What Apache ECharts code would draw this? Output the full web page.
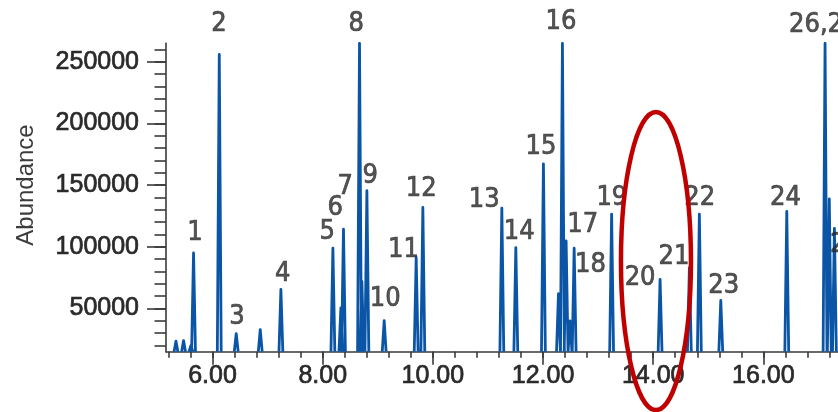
<!DOCTYPE html>
<html>
<head>
<meta charset="utf-8">
<script src="https://cdn.jsdelivr.net/npm/echarts@6/dist/echarts.min.js"></script>
<style>
html,body{margin:0;padding:0;background:#fff;}
#chart{width:838px;height:412px;}
</style>
</head>
<body>
<div id="chart"></div>
<script>
// ---- data (retention time in min, abundance) ----
const peakTimes   = [5.336, 5.474, 5.608, 5.655, 6.122, 6.430, 6.866, 7.241, 8.185, 8.330, 8.377, 8.668, 8.711, 8.802, 9.116, 9.697, 9.818, 11.252, 11.506, 12.007, 12.280, 12.352, 12.419, 12.490, 12.565, 13.245, 14.125, 14.657, 14.838, 15.227, 16.425, 17.120, 17.197, 17.290];
const peakHeights = [23500, 24000, 20000, 95000, 256000, 29600, 32900, 65500, 99000, 50500, 114300, 265000, 72000, 145500, 40200, 91200, 131900, 131400, 99400, 167300, 62000, 265000, 104800, 40000, 98900, 126600, 73600, 83100, 126600, 56500, 128700, 265000, 138800, 115000];
const baselineAbundance = 15000;

const peakLabels      = ['1','2','3','4','5','6','7','8','9','10','11','12','13','14','15','16','17','18','19','20','21','22','23','24','26,27','28'];
const peakLabelTimes  = [5.681, 6.116, 6.443, 7.274, 8.082, 8.227, 8.408, 8.608, 8.862, 9.134, 9.466, 9.788, 10.931, 11.566, 11.962, 12.325, 12.719, 12.860, 13.249, 13.762, 14.376, 14.846, 15.281, 16.403, 17.096, 17.490];
const peakLabelValues = [111200, 280600, 43400, 78000, 112300, 131250, 148760, 280600, 157600, 57700, 97450, 146500, 138000, 112300, 181200, 282500, 117700, 85300, 139600, 75150, 92000, 139350, 68400, 139600, 279800, 101500];

const xLabelTicks = [6, 8, 10, 12, 14, 16];
const xMinorTicks = [5.2, 5.6, 6.0, 6.4, 6.8, 7.2, 7.6, 8.0, 8.4, 8.8, 9.2, 9.6, 10.0, 10.4, 10.8, 11.2, 11.6, 12.0, 12.4, 12.8, 13.2, 13.6, 14.0, 14.4, 14.8, 15.2, 15.6, 16.0, 16.4, 16.8, 17.2];
const yLabelTicks = [50000, 100000, 150000, 200000, 250000];
const yMinorTicks = [20000, 30000, 40000, 50000, 60000, 70000, 80000, 90000, 100000, 110000, 120000, 130000, 140000, 150000, 160000, 170000, 180000, 190000, 200000, 210000, 220000, 230000, 240000, 250000, 260000];
const highlightCenter = [14.05, 88500];  // centre of the red highlight ring (data units)

// ---- styles ----
const X_MIN = 5.155, X_MAX = 17.355, Y_MIN = 15000, Y_MAX = 265000;
const PEAK_HALF_WIDTH = 0.035;
const AXIS_COLOR = '#3a3a3a';
const TEXT_COLOR = '#2a2a2a';
const TRACE_COLOR = '#0b55a6';
const FONT = '"Liberation Sans", Arial, sans-serif';
const NARROW = '"Liberation Sans Narrow", "Arial Narrow", "DejaVu Sans Condensed", sans-serif';
const heavy = {textBorderColor: TEXT_COLOR, textBorderWidth: 0.7};

// build the trace: one spike per peak, separated by gaps
const trace = [];
peakTimes.forEach((t, i) => {
  trace.push([t - PEAK_HALF_WIDTH, baselineAbundance]);
  trace.push([t, peakHeights[i]]);
  trace.push([t + PEAK_HALF_WIDTH, baselineAbundance]);
  trace.push([t + PEAK_HALF_WIDTH, '-']);
});
const labelData = peakLabelTimes.map((t, i) => [t, peakLabelValues[i]]);

const chart = echarts.init(document.getElementById('chart'), null, {renderer: 'canvas'});
const axisBase = {type: 'value', min: X_MIN, max: X_MAX, splitLine: {show: false}};
chart.setOption({
  animation: false,
  backgroundColor: '#ffffff',
  grid: {left: 166, right: 0, top: 43.3, bottom: 60.3, containLabel: false},
  xAxis: [
    Object.assign({}, axisBase, {
      position: 'bottom',
      axisLine: {show: true, onZero: false, lineStyle: {color: AXIS_COLOR, width: 1.6}},
      axisTick: {show: true, customValues: xMinorTicks, length: 6, lineStyle: {color: AXIS_COLOR, width: 1.6}},
      axisLabel: {show: false}
    }),
    Object.assign({}, axisBase, {
      position: 'bottom',
      axisLine: {show: false, onZero: false},
      axisTick: {show: true, customValues: xLabelTicks, length: 13, lineStyle: {color: AXIS_COLOR, width: 1.6}},
      axisLabel: Object.assign({show: true, customValues: xLabelTicks, margin: 12, color: TEXT_COLOR, fontFamily: FONT, fontSize: 25,
        formatter: v => Number(v).toFixed(2)}, heavy)
    })
  ],
  yAxis: [
    {
      type: 'value', min: Y_MIN, max: Y_MAX, position: 'left',
      splitLine: {show: false},
      axisLine: {show: true, onZero: false, lineStyle: {color: AXIS_COLOR, width: 1.6}},
      axisTick: {show: true, customValues: yMinorTicks, length: 11.5, lineStyle: {color: AXIS_COLOR, width: 1.6}},
      axisLabel: {show: false}
    },
    {
      type: 'value', min: Y_MIN, max: Y_MAX, position: 'left',
      splitLine: {show: false},
      axisLine: {show: false, onZero: false},
      axisTick: {show: true, customValues: yLabelTicks, length: 19, lineStyle: {color: AXIS_COLOR, width: 1.6}},
      axisLabel: Object.assign({show: true, customValues: yLabelTicks, margin: 27, color: TEXT_COLOR, fontFamily: FONT, fontSize: 25,
        formatter: v => String(Math.round(v))}, heavy),
      name: 'Abundance', nameLocation: 'middle', nameGap: 128,
      nameTextStyle: {color: '#3c3c3c', fontFamily: FONT, fontSize: 24, padding: [0, 0, 0, 25]}
    }
  ],
  series: [
    {
      type: 'line', xAxisIndex: 0, yAxisIndex: 0, data: trace,
      showSymbol: false, symbol: 'none', connectNulls: false, clip: true,
      lineStyle: {color: TRACE_COLOR, width: 2.8, join: 'round'},
      z: 3
    },
    {
      type: 'scatter', xAxisIndex: 0, yAxisIndex: 0, data: labelData, clip: false,
      symbolSize: 1, itemStyle: {color: 'rgba(0,0,0,0)'},
      label: Object.assign({show: true, position: 'inside', color: TEXT_COLOR, fontFamily: NARROW, fontSize: 27,
        formatter: p => peakLabels[p.dataIndex]}, heavy),
      z: 4, silent: true
    }
  ]
});

const c = chart.convertToPixel({xAxisIndex: 0, yAxisIndex: 0}, highlightCenter);
chart.setOption({
  graphic: [{
    type: 'ellipse', z: 100, silent: true,
    shape: {cx: c[0], cy: c[1], rx: 35, ry: 149},
    style: {fill: 'none', stroke: '#c00000', lineWidth: 4.5}
  }]
});
</script>
</body>
</html>
